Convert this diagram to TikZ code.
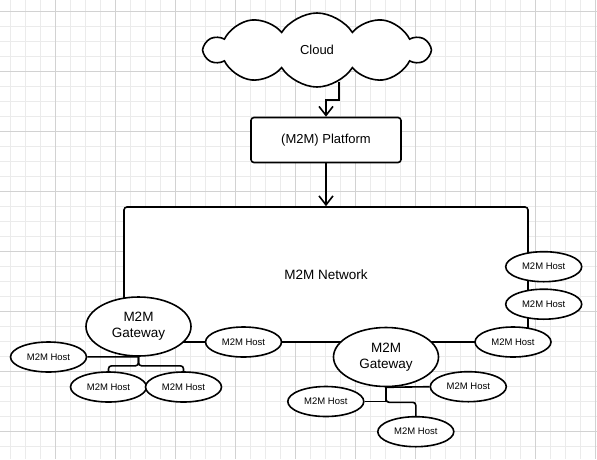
\documentclass[tikz,border=0pt]{standalone}
\usepackage{fontspec}
\setmainfont{Liberation Sans}
\usetikzlibrary{shapes.geometric,shapes.symbols,arrows.meta,calc}
\definecolor{gridminor}{HTML}{EBEBEB}
\definecolor{gridmajor}{HTML}{D2D2D2}

\begin{document}
\begin{tikzpicture}[x=1pt, y=-1pt, line width=1.6pt,
>={Straight Barb[length=9pt,width=14pt]},
minorline/.style={draw=gridminor, line width=0.7pt},
majorline/.style={draw=gridmajor, line width=0.8pt},
cloudshape/.style={cloud, cloud puffs=10, cloud puff arc=115, aspect=3, draw, fill=white,
      minimum width=224pt, minimum height=74pt, font=\fontsize{13}{15}\selectfont},
platformbox/.style={rectangle, draw, fill=white, rounded corners=3pt,
      minimum width=150pt, minimum height=45pt, font=\fontsize{13}{15}\selectfont},
netbox/.style={rectangle, draw, fill=white, rounded corners=3pt,
      minimum width=404pt, minimum height=135pt, font=\fontsize{13.5}{16}\selectfont},
gateway/.style={ellipse, draw, fill=white, minimum width=105pt, minimum height=59pt,
      inner sep=1pt, align=center, font=\fontsize{13.5}{16}\selectfont},
host/.style={ellipse, draw, fill=white, minimum width=76pt, minimum height=30pt,
      inner sep=0pt, font=\fontsize{9.5}{11}\selectfont},]
 \useasboundingbox (0,0) rectangle (597,459);
 % background grid
 \foreach \gx in {10,25,...,595} \draw[minorline] (\gx,0) -- (\gx,459);
 \foreach \gy in {11,26,...,446} \draw[minorline] (0,\gy) -- (597,\gy);
 \foreach \gx in {55,115,...,595} \draw[majorline] (\gx,0) -- (\gx,459);
 \foreach \gy in {11,71,...,431} \draw[majorline] (0,\gy) -- (597,\gy);

 \node[cloudshape] (cloud) at (317,50) {Cloud};
 \node[platformbox] (platform) at (326,140) {(M2M) Platform};
 \node[netbox] (network) at (326,274.5) {M2M Network};

 \node[gateway] (gwleft) at (138.5,326.5) {M2M\\Gateway};
 \node[gateway] (gwright) at (386,357) {M2M\\Gateway};

 \node[host] (hostleft) at (48.5,357) {M2M Host};
 \node[host] (hostbl) at (108.5,387) {M2M Host};
 \node[host, right of=hostbl, node distance=75pt] (hostbr) {M2M Host};
 \node[host] (hostmid) at (243.5,342) {M2M Host};
 \node[host] (hostrt) at (543.7,266.7) {M2M Host};
 \node[host, below of=hostrt, node distance=37.5pt] (hostrm) {M2M Host};
 \node[host] (hostrb) at (513,342) {M2M Host};
 \node[host] (hostge) at (468.3,386.7) {M2M Host};
 \node[host] (hostgw) at (325.8,401.5) {M2M Host};
 \node[host] (hostgs) at (415.8,431.7) {M2M Host};

 \draw[->] (cloud.-55) |- ($(platform.north)+(0,-17)$) -- (platform.north);
 \draw[->] (platform) -- (network);

 \draw (hostleft) -- (gwleft.south);
 \draw[rounded corners=3pt] (gwleft.south) -- ++(0,9) -| (hostbl.north);
 \draw[rounded corners=3pt] (gwleft.south) -- ++(0,9) -| (hostbr.north);

 \draw (gwright.south) -- (hostge.west);
 \draw (hostgw.east) -| (gwright.south);
 \draw[rounded corners=3pt] (gwright.south) -- ++(0,15) -| (hostgs.north);
\end{tikzpicture}
\end{document}
